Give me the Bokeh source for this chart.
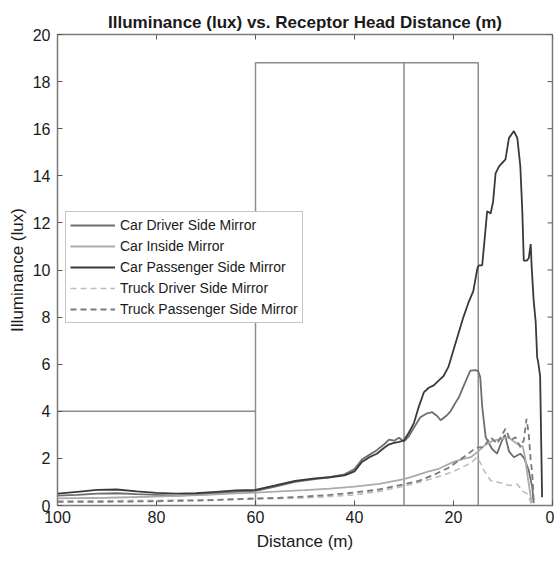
import math
from bokeh.plotting import figure
from bokeh.models import Range1d, Legend, LegendItem, FixedTicker
from bokeh.embed import file_html
from bokeh.resources import INLINE

# ---------------- data ----------------
car_pass_x = [100, 96, 92, 88, 84, 80, 76, 72, 68, 64, 60, 56, 52, 48, 45, 42, 40, 38.5, 37, 35.5,
              34, 33, 32, 31, 30, 29, 28, 27, 26, 25, 24, 23, 22, 21, 20, 19, 18, 17, 16, 15.2,
              14.9, 14.2, 13.5, 13.2, 12.5, 12, 11.5, 10.8, 9.5, 8.8, 7.8, 7.1, 6.5, 6.1, 5.8,
              5.2, 4.8, 4.4, 4.2, 3.8, 3.4, 3.1, 2.9, 2.5, 2.1]
car_pass_y = [0.5, 0.58, 0.66, 0.68, 0.6, 0.54, 0.5, 0.52, 0.58, 0.64, 0.66, 0.85, 1.05, 1.15, 1.2,
              1.28, 1.45, 1.85, 2.05, 2.2, 2.45, 2.6, 2.66, 2.7, 2.76, 3.1, 3.5, 4.2, 4.8, 5.0, 5.1,
              5.3, 5.5, 5.9, 6.6, 7.3, 8.0, 8.6, 9.1, 10.05, 10.2, 10.2, 11.8, 12.5, 12.4, 12.9,
              14.1, 14.4, 14.7, 15.6, 15.9, 15.6, 14.4, 12.5, 10.4, 10.4, 10.5, 11.1, 10.1, 8.7,
              7.8, 6.3, 6.1, 5.5, 0.35]

car_driver_x = [100, 96, 92, 88, 84, 80, 76, 72, 68, 64, 60, 56, 52, 48, 45, 42, 40, 38.5, 37,
                35.5, 34, 33, 32, 31, 30, 29, 28, 26.7, 25.5, 24.3, 23.3, 22.6, 21.5, 20.6, 19.5,
                18.9, 17.9, 16.6, 15.5, 15.0, 14.6, 14.2, 13.5, 12.2, 11.2, 10.2, 9.6, 8.8, 7.8,
                6.5, 5.7, 4.8, 4.1, 3.8]
car_driver_y = [0.42, 0.45, 0.5, 0.52, 0.48, 0.45, 0.42, 0.45, 0.52, 0.58, 0.62, 0.8, 1.0, 1.12,
                1.2, 1.32, 1.55, 1.95, 2.15, 2.35, 2.6, 2.8, 2.75, 2.88, 2.72, 2.95, 3.3, 3.75,
                3.9, 3.96, 3.8, 3.62, 3.8, 4.0, 4.4, 4.6, 5.1, 5.73, 5.75, 5.7, 5.45, 4.2, 2.9,
                2.4, 2.2, 2.76, 3.0, 2.3, 2.05, 2.2, 2.0, 1.49, 0.78, 0.1]

car_inside_x = [100, 90, 80, 70, 65, 60, 55, 50, 45, 40, 35, 30, 28, 25, 23, 20, 18, 16.5, 15,
                14, 13, 12, 11, 10, 9, 8, 7, 6, 5.5, 5, 4.5, 4.2]
car_inside_y = [0.3, 0.33, 0.38, 0.45, 0.5, 0.55, 0.6, 0.65, 0.72, 0.8, 0.92, 1.12, 1.25, 1.45,
                1.56, 1.85, 1.98, 2.05, 2.3, 2.5, 2.65, 2.75, 2.8, 2.85, 2.9, 2.75, 2.6, 2.5, 2.0,
                1.2, 0.5, 0.1]

truck_driver_x = [100, 90, 80, 70, 60, 50, 45, 40, 35, 30, 25, 22, 20, 18, 16.5, 15.2, 14.8,
                  14.3, 13.9, 12.5, 11.2, 9.8, 8.8, 7.1, 6.0, 5.1, 4.6, 4.2]
truck_driver_y = [0.2, 0.2, 0.22, 0.24, 0.27, 0.32, 0.38, 0.45, 0.6, 0.82, 1.1, 1.3, 1.45, 1.65,
                  1.8, 2.05, 1.9, 1.7, 1.5, 1.06, 1.0, 0.93, 0.85, 0.9, 0.6, 0.5, 0.25, 0.02]

truck_pass_x = [100, 90, 80, 70, 60, 55, 50, 45, 40, 35, 30, 27, 24, 21, 19, 17, 15.5, 13.9,
                12.5, 11.2, 9.5, 8.5, 7.5, 6.5, 5.8, 5.25, 4.8, 4.4, 4.1, 3.8]
truck_pass_y = [0.15, 0.16, 0.18, 0.22, 0.3, 0.33, 0.38, 0.45, 0.55, 0.68, 0.9, 1.05, 1.3, 1.6,
                1.9, 2.2, 2.45, 2.48, 2.9, 2.62, 3.26, 2.76, 2.9, 2.48, 2.76, 3.68, 3.04, 1.9,
                1.4, 0.2]

series_names = ["Car Driver Side Mirror", "Car Inside Mirror", "Car Passenger Side Mirror",
                "Truck Driver Side Mirror", "Truck Passenger Side Mirror"]

zone_left, zone_mid, zone_right, zone_top = 60, 30, 15, 18.8
threshold_x = [100, 60]
threshold_y = [4, 4]

x_ticks = [100, 80, 60, 40, 20, 0]
y_ticks = [0, 2, 4, 6, 8, 10, 12, 14, 16, 18, 20]
x_min, x_max, y_min, y_max = 0, 100, 0, 20

FONT = "Liberation Sans"
TXT = "#1a1a1a"
FRAME = "#7a7a7a"

p = figure(width=554, height=562, output_backend="svg", toolbar_location=None,
           x_range=Range1d(x_max, x_min), y_range=Range1d(y_min, y_max),
           min_border_left=57, min_border_right=2, min_border_top=34, min_border_bottom=57,
           title="Illuminance (lux) vs. Receptor Head Distance (m)")
p.title.text_font = FONT
p.title.text_font_size = "17px"
p.title.text_font_style = "bold"
p.title.text_color = TXT
p.title.align = "center"
p.title.offset = 0
p.title.standoff = 5

p.xgrid.visible = False
p.ygrid.visible = False
p.outline_line_color = FRAME
p.outline_line_width = 1.5

for ax in (p.xaxis[0], p.yaxis[0]):
    ax.major_tick_in = 5
    ax.major_tick_out = 0
    ax.minor_tick_line_color = None
    ax.axis_line_color = FRAME
    ax.major_tick_line_color = "#555555"
    ax.major_label_text_font = FONT
    ax.major_label_text_font_size = "16px"
    ax.major_label_text_color = TXT
    ax.axis_label_text_font = FONT
    ax.axis_label_text_font_size = "17px"
    ax.axis_label_text_font_style = "normal"
    ax.axis_label_text_color = TXT

p.xaxis[0].ticker = FixedTicker(ticks=x_ticks)
p.yaxis[0].ticker = FixedTicker(ticks=y_ticks)
p.xaxis[0].axis_label = "Distance (m)"
p.yaxis[0].axis_label = "Illuminance (lux)"
p.xaxis[0].major_label_standoff = 5
p.yaxis[0].major_label_standoff = 7
p.xaxis[0].axis_label_standoff = 6
p.yaxis[0].axis_label_standoff = 3

# mirrored inner ticks on the top and right edges
p.ray(x=x_ticks, y=y_max, length=5, length_units="screen", angle=-math.pi / 2,
      line_color="#555555", line_width=1)
p.ray(x=x_min, y=y_ticks, length=5, length_units="screen", angle=math.pi,
      line_color="#555555", line_width=1)

# zone annotations
ZC = "#8c8c8c"
p.line([zone_left, zone_left, zone_right, zone_right], [0, zone_top, zone_top, 0],
       line_color=ZC, line_width=1.5)
p.line([zone_mid, zone_mid], [0, zone_top], line_color=ZC, line_width=1.5)
p.line(threshold_x, threshold_y, line_color=ZC, line_width=1.5)

r_cd = p.line(car_driver_x, car_driver_y, line_color="#6e6e6e", line_width=1.8)
r_ci = p.line(car_inside_x, car_inside_y, line_color="#ababab", line_width=1.8)
r_cp = p.line(car_pass_x, car_pass_y, line_color="#3a3a3a", line_width=1.8)
r_td = p.line(truck_driver_x, truck_driver_y, line_color="#bdbdbd", line_width=1.6,
              line_dash="6 4")
r_tp = p.line(truck_pass_x, truck_pass_y, line_color="#7a7a7a", line_width=1.8,
              line_dash="6 4")

legend = Legend(items=[LegendItem(label=n, renderers=[r]) for n, r in
                       zip(series_names, [r_cd, r_ci, r_cp, r_td, r_tp])],
                location=(8, 182), label_text_font=FONT, label_text_font_size="14px",
                label_text_color=TXT, glyph_width=45, glyph_height=18, spacing=3,
                padding=4, label_standoff=5, border_line_color="#8c8c8c",
                border_line_width=1.5, background_fill_alpha=1, margin=0,
                label_height=18)
p.add_layout(legend)

open("out.html", "w").write(file_html(p, INLINE))
